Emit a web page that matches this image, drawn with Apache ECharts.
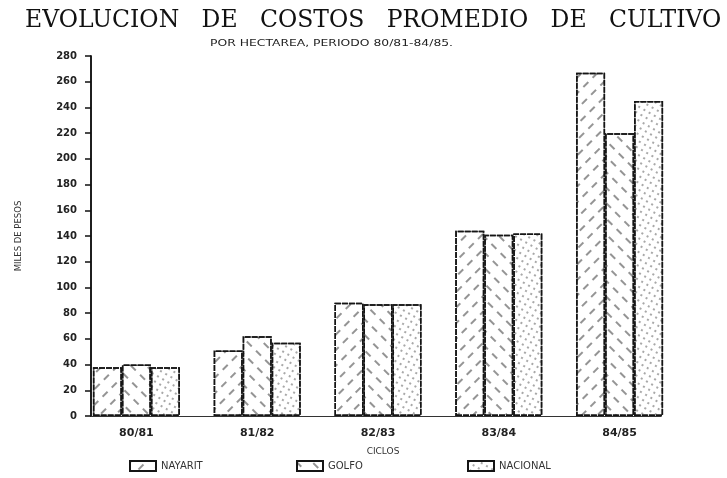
<!DOCTYPE html>
<html>
<head>
<meta charset="utf-8">
<script src="https://cdn.jsdelivr.net/npm/echarts@6/dist/echarts.min.js"></script>
<style>
  html, body { margin: 0; padding: 0; background: #fff; }
  #chart { width: 727px; height: 478px; }
</style>
</head>
<body>
<div id="chart"></div>
<script>
// datos (miles de pesos por hectarea)
const ciclos = ['80/81', '81/82', '82/83', '83/84', '84/85']
const nayarit = [38, 51, 88, 144, 267]
const golfo = [40, 62, 87, 141, 220]
const nacional = [38, 57, 87, 142, 245]
const yTicks = { min: 0, max: 280, interval: 20 }

const chart = echarts.init(document.getElementById('chart'))

const borde = { color: '#fff', borderColor: '#151515', borderWidth: 1.5, borderType: [6, 1] }

chart.setOption({
  backgroundColor: '#fff',
  animation: false,
  title: [
    {
      text: 'EVOLUCION   DE   COSTOS   PROMEDIO   DE   CULTIVO',
      left: 20,
      top: 4,
      textStyle: { fontFamily: 'DejaVu Serif', fontSize: 23.5, fontWeight: 'normal', color: '#111' }
    }
  ],
  graphic: [
    {
      type: 'text',
      left: 210,
      top: 39,
      scaleX: 1.3,
      style: {
        text: 'POR HECTAREA, PERIODO 80/81-84/85.',
        font: '9.5px "DejaVu Sans"',
        fill: '#222'
      }
    }
  ],
  legend: [
    { data: ['NAYARIT'], left: 124, top: 455 },
    { data: ['GOLFO'], left: 291, top: 455 },
    { data: ['NACIONAL'], left: 462, top: 455 }
  ].map((l) => ({
    ...l,
    icon: 'rect',
    itemWidth: 26,
    itemHeight: 10,
    textStyle: { fontSize: 10, color: '#333', fontFamily: 'DejaVu Sans' }
  })),
  grid: [
    { left: 76, right: 47, top: 56, bottom: 62 },
    { left: 91, right: 66, top: 56, bottom: 62 }
  ],
  xAxis: [
    {
      gridIndex: 0,
      type: 'category',
      data: ciclos,
      axisLine: { show: false },
      axisTick: { show: false },
      axisLabel: { margin: 12, fontSize: 11, fontWeight: 'bold', color: '#222', fontFamily: 'DejaVu Sans' }
    },
    {
      gridIndex: 1,
      type: 'value',
      min: 0,
      max: 1,
      position: 'bottom',
      name: 'CICLOS',
      nameLocation: 'middle',
      nameGap: 31,
      nameTextStyle: { fontSize: 9, color: '#333', fontFamily: 'DejaVu Sans', padding: [0, 0, 0, 14] },
      axisLine: { lineStyle: { color: '#333', width: 1, type: [2, 2] } },
      axisTick: { show: false },
      axisLabel: { show: false },
      splitLine: { show: false }
    },
    {
      gridIndex: 1,
      type: 'value',
      min: 0,
      max: 1,
      position: 'top',
      axisLine: { lineStyle: { color: '#333', width: 1 } },
      axisTick: { show: false },
      axisLabel: { show: false },
      splitLine: { show: false }
    }
  ],
  yAxis: [
    { gridIndex: 0, type: 'value', ...yTicks, show: false },
    {
      gridIndex: 1,
      type: 'value',
      ...yTicks,
      position: 'left',
      name: 'MILES DE PESOS',
      nameLocation: 'middle',
      nameRotate: 90,
      nameGap: 68,
      nameTextStyle: { fontSize: 8.5, color: '#333', fontFamily: 'DejaVu Sans' },
      axisLine: { show: true, lineStyle: { color: '#111', width: 1.5 } },
      axisTick: { show: true, length: 6, lineStyle: { color: '#111', width: 1.5 } },
      axisLabel: { margin: 14, fontSize: 10, fontWeight: 'bold', color: '#222', fontFamily: 'DejaVu Sans' },
      splitLine: { show: false }
    },
    {
      gridIndex: 1,
      type: 'value',
      ...yTicks,
      position: 'right',
      axisLine: { show: true, lineStyle: { color: '#111', width: 1.5 } },
      axisTick: { show: false },
      axisLabel: { show: false },
      splitLine: { show: false }
    }
  ],
  series: [
    {
      name: 'NAYARIT',
      type: 'bar',
      data: nayarit,
      barWidth: 29,
      barGap: '0%',
      itemStyle: {
        ...borde,
        decal: {
          symbol: 'rect',
          symbolSize: 1,
          color: 'rgba(0,0,0,0.42)',
          dashArrayX: [[7, 6]],
          dashArrayY: [1.2, 9],
          rotation: -Math.PI / 4
        }
      }
    },
    {
      name: 'GOLFO',
      type: 'bar',
      data: golfo,
      barWidth: 29,
      barGap: '0%',
      itemStyle: {
        ...borde,
        decal: {
          symbol: 'rect',
          symbolSize: 1,
          color: 'rgba(0,0,0,0.42)',
          dashArrayX: [[7, 6]],
          dashArrayY: [1.2, 9],
          rotation: Math.PI / 4
        }
      }
    },
    {
      name: 'NACIONAL',
      type: 'bar',
      data: nacional,
      barWidth: 29,
      barGap: '0%',
      itemStyle: {
        ...borde,
        decal: {
          symbol: 'circle',
          symbolSize: 0.9,
          color: 'rgba(0,0,0,0.5)',
          dashArrayX: [[2, 4]],
          dashArrayY: [2, 4],
          rotation: Math.PI / 6
        }
      }
    }
  ]
})
</script>
</body>
</html>
